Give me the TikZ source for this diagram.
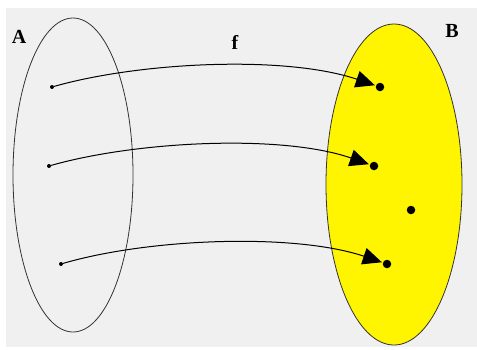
\documentclass[tikz,border=0pt]{standalone}
\usepackage{fontspec}
\setmainfont{Liberation Serif}
\usetikzlibrary{arrows.meta,shapes.geometric}
\definecolor{bgray}{RGB}{240,240,240}
\definecolor{setyellow}{RGB}{255,245,0}
\begin{document}
\begin{tikzpicture}[x=1pt,y=-1pt,
  setshape/.style={ellipse, draw=black!80, line width=0.8pt, inner sep=0pt},
  dotA/.style={circle, fill=black, inner sep=0pt, minimum size=4pt},
  dotB/.style={circle, fill=black, inner sep=0pt, minimum size=8.5pt},
  lbl/.style={font=\bfseries\fontsize{20}{24}\selectfont, inner sep=0pt},
  maparrow/.style={draw=black, line width=1pt, -{Triangle[length=19pt,width=17pt]}, shorten >=1pt}]
\useasboundingbox (0,0) rectangle (477,349);
\fill[white] (0,0) rectangle (477,349);
\fill[bgray] (6,8) rectangle (477,347);
% sets
\node[setshape, minimum width=120pt, minimum height=314pt] (setA) at (73,175) {};
\node[setshape, fill=setyellow, minimum width=136pt, minimum height=321pt] (setB) at (394,184.5) {};
% labels
\node[lbl] (labA) at (19,37) {A};
\node[lbl] (labB) at (452,31) {B};
\node[lbl] (labf) at (235,42) {f};
% elements
\node[dotA] (a1) at (52,87) {};
\node[dotA] (a2) at (49,166) {};
\node[dotA] (a3) at (61,264) {};
\node[dotB] (b1) at (380,87) {};
\node[dotB] (b2) at (374,166) {};
\node[dotB] (b3) at (387,264) {};
\node[dotB] (b4) at (411,210) {};
% mapping
\draw[maparrow] (a1) .. controls (140,62) and (285,55) .. (b1);
\draw[maparrow] (a2) .. controls (137,141) and (282,134) .. (b2);
\draw[maparrow] (a3) .. controls (150,238) and (295,233) .. (b3);
\end{tikzpicture}
\end{document}
